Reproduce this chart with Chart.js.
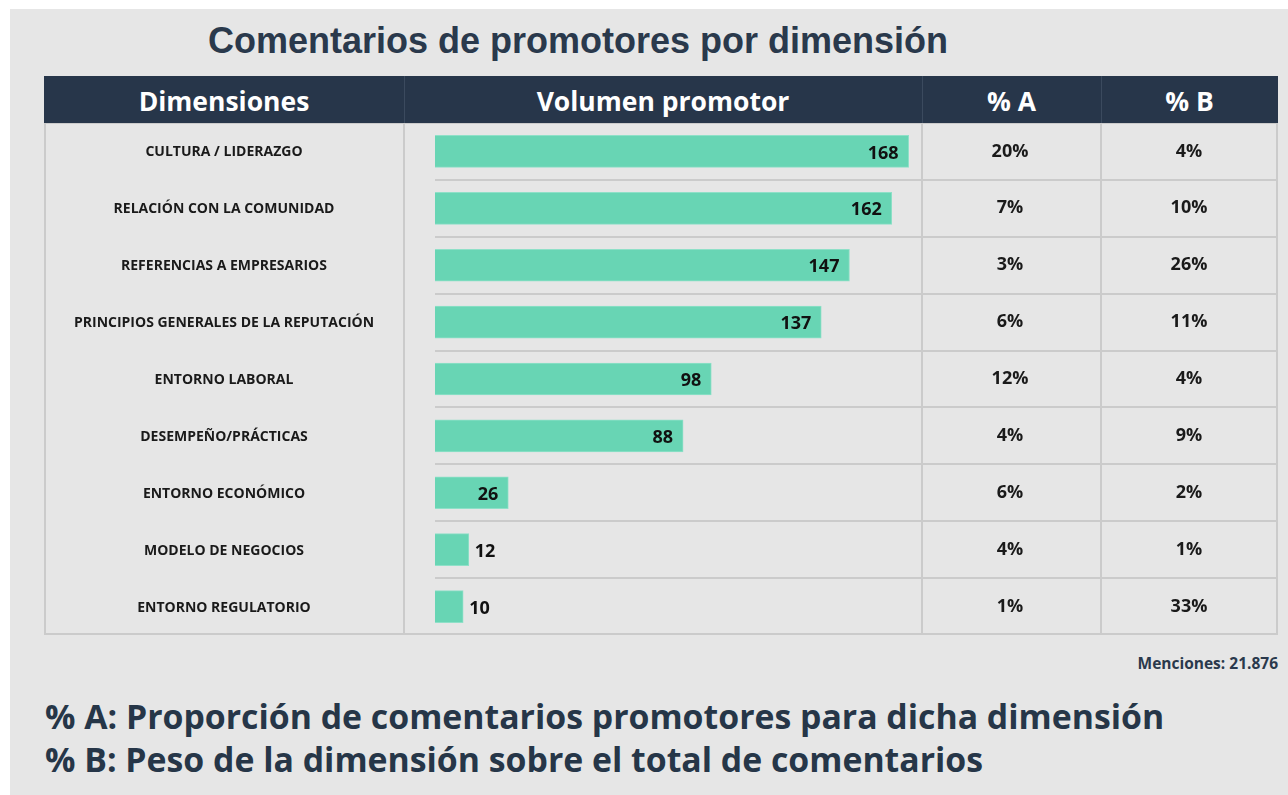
<!DOCTYPE html>
<html>
<head>
<meta charset="utf-8">
<script src="https://cdn.jsdelivr.net/npm/chart.js@4.4.1/dist/chart.umd.min.js"></script>
<style>
  html, body { margin: 0; padding: 0; background: #fff; }
  body { width: 1288px; height: 795px; position: relative; overflow: hidden; font-family: "Open Sans", sans-serif; }
  .panel { position: absolute; left: 10px; top: 9px; right: 0; bottom: 0; background: #e6e6e6; }
  .title { position: absolute; left: 0; width: 1156px; top: 20px; text-align: center;
    font: bold 36px "Liberation Sans", Arial, sans-serif; color: #2a394c; }
  .head { position: absolute; top: 76px; left: 44px; width: 1234px; height: 47px; background: #27364a; color: #fff;
    font: bold 26.5px "Open Sans", sans-serif; }
  .head div { position: absolute; top: 0; height: 47px; line-height: 51px; text-align: center; border-right: 1px solid #3b4a5e; }
  #wrap { position: absolute; left: 44px; top: 123px; width: 1234px; height: 512px; }
  .menc { position: absolute; right: 10px; top: 652px; font: bold 15.5px "Open Sans", sans-serif; color: #2a394c; }
  .foot { position: absolute; left: 45px; top: 695px; font: bold 33.8px/43px "Open Sans", sans-serif; color: #263648; }
</style>
</head>
<body>
<div class="panel"></div>
<div class="title">Comentarios de promotores por dimensión</div>
<div class="head">
  <div style="left:0;width:360px">Dimensiones</div>
  <div style="left:360px;width:518px">Volumen promotor</div>
  <div style="left:878px;width:179px">% A</div>
  <div style="left:1057px;width:177px;border-right:none">% B</div>
</div>
<div id="wrap"><canvas id="grafico"></canvas></div>
<div class="menc">Menciones: 21.876</div>
<div class="foot">% A: Proporción de comentarios promotores para dicha dimensión<br>% B: Peso de la dimensión sobre el total de comentarios</div>

<script>
const dimensiones = [
  'CULTURA / LIDERAZGO',
  'RELACIÓN CON LA COMUNIDAD',
  'REFERENCIAS A EMPRESARIOS',
  'PRINCIPIOS GENERALES DE LA REPUTACIÓN',
  'ENTORNO LABORAL',
  'DESEMPEÑO/PRÁCTICAS',
  'ENTORNO ECONÓMICO',
  'MODELO DE NEGOCIOS',
  'ENTORNO REGULATORIO'
];
const volumen = [168, 162, 147, 137, 98, 88, 26, 12, 10];
const pctA = ['20%', '7%', '3%', '6%', '12%', '4%', '6%', '4%', '1%'];
const pctB = ['4%', '10%', '26%', '11%', '4%', '9%', '2%', '1%', '33%'];

const lineColor = '#cbcbcb';

// columnas de la tabla (x dentro del canvas)
const colDim = 180, colSep = [360, 878, 1057], colA = 966, colB = 1145;

// Dibuja la tabla: bordes, textos de columnas y etiquetas de las barras
const tablaPlugin = {
  id: 'tabla',
  beforeDatasetsDraw(chart) {
    const { ctx, width, height } = chart;
    ctx.save();
    ctx.strokeStyle = lineColor;
    ctx.lineWidth = 2;
    colSep.forEach(x => {
      ctx.beginPath(); ctx.moveTo(x, 0); ctx.lineTo(x, height); ctx.stroke();
    });
    ctx.strokeRect(1, 0, width - 2, height - 1);
    ctx.restore();
  },
  afterDatasetsDraw(chart) {
    const { ctx } = chart;
    const y = chart.scales.y;
    const meta = chart.getDatasetMeta(0);
    ctx.save();
    ctx.textBaseline = 'middle';
    dimensiones.forEach((d, i) => {
      const py = y.getPixelForValue(i);
      ctx.fillStyle = '#1a1a1a';
      ctx.textAlign = 'center';
      ctx.font = 'bold 14px "Open Sans"';
      ctx.fillText(d, colDim, py + 1);
      ctx.font = 'bold 18px "Open Sans"';
      ctx.fillText(pctA[i], colA, py);
      ctx.fillText(pctB[i], colB, py);

      // etiqueta del valor
      const bar = meta.data[i];
      const w = bar.x - bar.base;
      ctx.font = 'bold 18px "Open Sans"';
      ctx.fillStyle = '#111';
      if (w > 50) {
        ctx.textAlign = 'right';
        ctx.fillText(volumen[i], bar.x - 10, py + 2);
      } else {
        ctx.textAlign = 'left';
        ctx.fillText(volumen[i], bar.x + 6, py + 2);
      }
    });
    ctx.restore();
  }
};

new Chart(document.getElementById('grafico'), {
  type: 'bar',
  data: {
    labels: dimensiones,
    datasets: [{
      data: volumen,
      backgroundColor: '#68d5b4',
      borderColor: '#8fe0c8',
      borderWidth: 1,
      barThickness: 32
    }]
  },
  options: {
    indexAxis: 'y',
    responsive: true,
    maintainAspectRatio: false,
    animation: false,
    layout: { padding: { left: 391, right: 0, top: 0, bottom: 0 } },
    plugins: { legend: { display: false }, tooltip: { enabled: false } },
    scales: {
      x: { display: false, min: 0, max: 299 },
      y: {
        display: true,
        ticks: { display: false },
        border: { display: false },
        grid: { color: lineColor, lineWidth: 2, offset: true, drawTicks: false }
      }
    }
  },
  plugins: [tablaPlugin]
});
</script>
</body>
</html>
